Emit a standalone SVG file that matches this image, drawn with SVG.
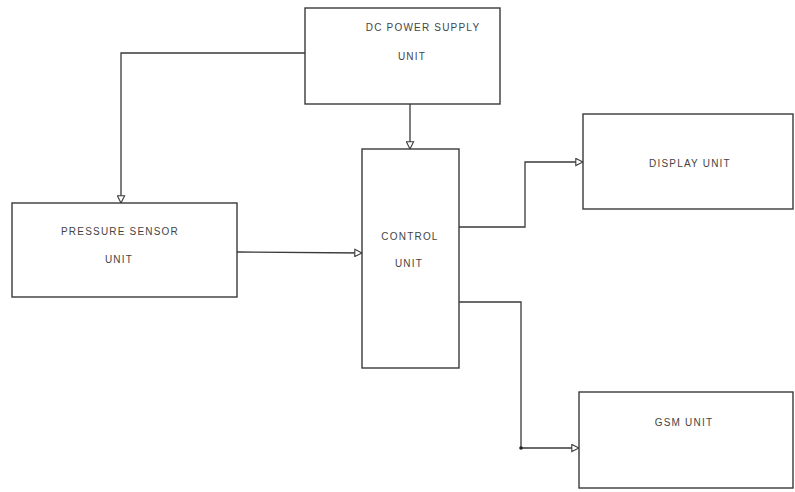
<svg xmlns="http://www.w3.org/2000/svg" width="795" height="492" viewBox="0 0 795 492">
<style>
.box{fill:#fff;stroke:#3a3a3a;stroke-width:1.4}
.lbl{font-family:"Liberation Sans",Arial,sans-serif;font-size:10px;fill:#444;text-anchor:middle;letter-spacing:1.2px}
.conn{fill:none;stroke:#3a3a3a;stroke-width:1.3}
</style>
<defs>
<marker id="arr" viewBox="0 0 10 10" refX="9" refY="5" markerWidth="9" markerHeight="9" markerUnits="userSpaceOnUse" orient="auto">
<path d="M1,1 L9,5 L1,9 Z" fill="#fff" stroke="#3a3a3a" stroke-width="1.2"/>
</marker>
</defs>
<rect width="795" height="492" fill="#fff"/>
<g id="connectors">
<polyline class="conn" points="305,53 121,53 121,203" marker-end="url(#arr)"/>
<polyline class="conn" points="410,104 410,149" marker-end="url(#arr)"/>
<polyline class="conn" points="237,252 362,253" marker-end="url(#arr)"/>
<polyline class="conn" points="459,227 525,227 525,162 583,162" marker-end="url(#arr)"/>
<polyline class="conn" points="459,302 521,302 521,448 579,448" marker-end="url(#arr)"/>
<circle cx="521" cy="448" r="1.8" fill="#222"/>
</g>
<g id="dc-power">
<rect class="box" x="305" y="8" width="195" height="96"/>
<text class="lbl" x="423" y="31">DC POWER SUPPLY</text>
<text class="lbl" x="412" y="60">UNIT</text>
</g>
<g id="pressure-sensor">
<rect class="box" x="12" y="203" width="225" height="94"/>
<text class="lbl" x="120" y="235">PRESSURE SENSOR</text>
<text class="lbl" x="119" y="263">UNIT</text>
</g>
<g id="control">
<rect class="box" x="362" y="149" width="97" height="219"/>
<text class="lbl" x="410" y="240">CONTROL</text>
<text class="lbl" x="409" y="267">UNIT</text>
</g>
<g id="display">
<rect class="box" x="583" y="114" width="210" height="95"/>
<text class="lbl" x="690" y="167">DISPLAY UNIT</text>
</g>
<g id="gsm">
<rect class="box" x="579" y="392" width="214" height="96"/>
<text class="lbl" x="684" y="426">GSM UNIT</text>
</g>
</svg>
